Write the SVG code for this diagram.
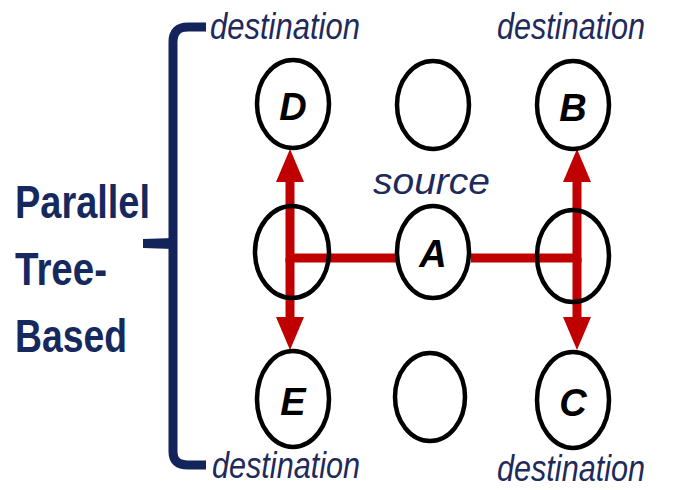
<svg xmlns="http://www.w3.org/2000/svg" width="675" height="490" viewBox="0 0 675 490">
  <style>
    .node { fill: #ffffff; stroke: #000000; stroke-width: 4.5; }
    .letter { font-family: "Liberation Sans", Arial, sans-serif; font-weight: bold; font-style: italic; font-size: 38px; fill: #000000; text-anchor: middle; }
    .dest { font-family: "Liberation Sans", Arial, sans-serif; font-style: italic; font-size: 37px; fill: #1f2a5c; }
    .title { font-family: "Liberation Sans", Arial, sans-serif; font-weight: bold; font-size: 47px; fill: #16295e; }
    .link { fill: none; stroke: #c00000; stroke-width: 9; }
    .brace { fill: none; stroke: #12245a; stroke-width: 9; stroke-linecap: butt; }
  </style>
  <defs>
    <marker id="arrow" markerUnits="userSpaceOnUse" markerWidth="33" markerHeight="28" viewBox="0 0 33 28" refX="0" refY="14" orient="auto">
      <path d="M0,0 L33,14 L0,28 Z" fill="#c00000"/>
    </marker>
  </defs>

  <rect width="675" height="490" fill="#ffffff"/>

  <!-- bracket and side label -->
  <g id="bracket">
    <path class="brace" d="M206,27 H188 Q173,27 173,42 V452 Q173,465 188,465 H206"/>
    <path d="M173,238 L143,239 L143,248 L173,249 Z" fill="#12245a"/>
  </g>
  <g id="label-group">
    <text class="title" x="15" y="218" textLength="135" lengthAdjust="spacingAndGlyphs">Parallel</text>
    <text class="title" x="15" y="285" textLength="92" lengthAdjust="spacingAndGlyphs">Tree-</text>
    <text class="title" x="15" y="352" textLength="112" lengthAdjust="spacingAndGlyphs">Based</text>
  </g>

  <!-- captions -->
  <g id="captions">
    <text class="dest" x="210" y="39" textLength="150" lengthAdjust="spacingAndGlyphs">destination</text>
    <text class="dest" x="497" y="39" textLength="148" lengthAdjust="spacingAndGlyphs">destination</text>
    <text class="dest" x="212" y="478" textLength="148" lengthAdjust="spacingAndGlyphs">destination</text>
    <text class="dest" x="497" y="481" textLength="148" lengthAdjust="spacingAndGlyphs">destination</text>
    <text class="dest" x="373" y="194" font-size="50" textLength="117" lengthAdjust="spacingAndGlyphs">source</text>
  </g>

  <!-- connectors -->
  <g id="connectors">
    <path class="link" d="M396,258 H290 V182" marker-end="url(#arrow)"/>
    <path class="link" d="M290,258 V317" marker-end="url(#arrow)"/>
    <path class="link" d="M471,258 H577 V182" marker-end="url(#arrow)"/>
    <path class="link" d="M577,258 V317" marker-end="url(#arrow)"/>
  </g>

  <!-- nodes -->
  <g id="node-D">
    <ellipse class="node" cx="293" cy="104" rx="36" ry="44"/>
    <text class="letter" x="293" y="120">D</text>
  </g>
  <g id="node-top-mid">
    <ellipse class="node" cx="433" cy="105" rx="36" ry="44"/>
  </g>
  <g id="node-B">
    <ellipse class="node" cx="573" cy="105" rx="36" ry="44"/>
    <text class="letter" x="573" y="121">B</text>
  </g>
  <g id="node-mid-left">
    <ellipse class="node" cx="292" cy="252" rx="37" ry="46" style="fill:none"/>
  </g>
  <g id="node-A">
    <ellipse class="node" cx="433" cy="252" rx="36" ry="46"/>
    <text class="letter" x="433" y="267">A</text>
  </g>
  <g id="node-mid-right">
    <ellipse class="node" cx="573" cy="256" rx="36" ry="46" style="fill:none"/>
  </g>
  <g id="node-E">
    <ellipse class="node" cx="293" cy="399" rx="36" ry="48"/>
    <text class="letter" x="293" y="415">E</text>
  </g>
  <g id="node-bottom-mid">
    <ellipse class="node" cx="430" cy="397" rx="35" ry="44"/>
  </g>
  <g id="node-C">
    <ellipse class="node" cx="573" cy="400" rx="36" ry="48"/>
    <text class="letter" x="573" y="416">C</text>
  </g>
</svg>
